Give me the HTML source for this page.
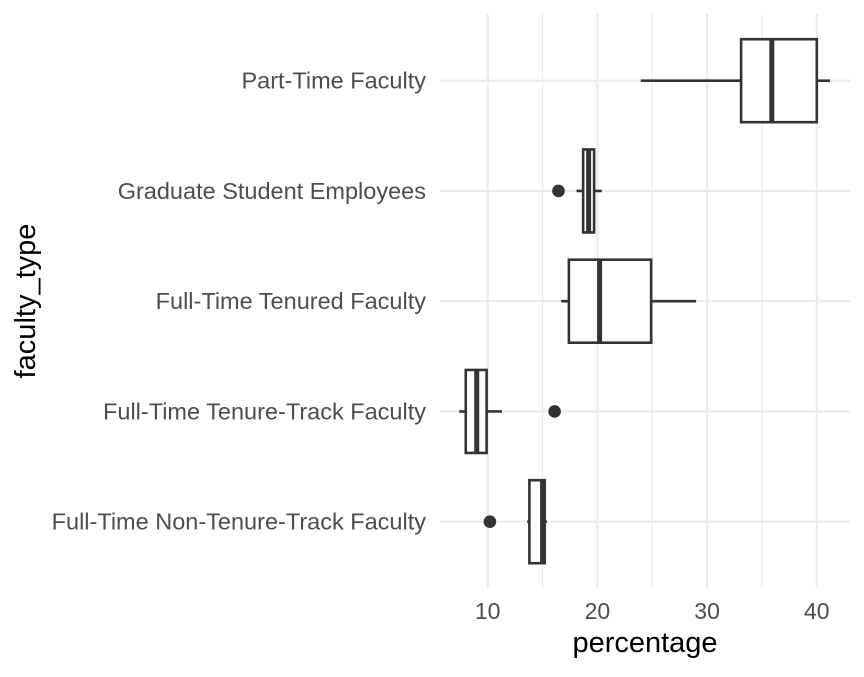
<!DOCTYPE html>
<html><head><meta charset="utf-8"><style>
html,body{margin:0;padding:0;background:#fff;}
svg text{font-family:"Liberation Sans",sans-serif;}
</style></head><body>
<svg id="chart" width="864" height="672" viewBox="0 0 864 672" xmlns="http://www.w3.org/2000/svg">
<g id="grid"></g>
<g id="boxes"></g>
<g id="labels"></g>
<text x="645" y="652" font-size="29" fill="#000" text-anchor="middle">percentage</text>
<text transform="translate(35,301) rotate(-90)" font-size="29" fill="#000" text-anchor="middle">faculty_type</text>
</svg>
<script>
const categories = ["Part-Time Faculty","Graduate Student Employees","Full-Time Tenured Faculty","Full-Time Tenure-Track Faculty","Full-Time Non-Tenure-Track Faculty"];
const whiskerLow = [23.95, 18.1, 16.7, 7.4, 13.6];
const q1 = [33.1, 18.7, 17.4, 8.0, 13.8];
const median = [35.9, 19.2, 20.2, 9.0, 15.0];
const q3 = [40.0, 19.7, 24.9, 9.9, 15.2];
const whiskerHigh = [41.2, 20.4, 29.0, 11.3, 15.4];
const outliers = [[], [16.45], [], [16.1], [10.2]];
const xTicks = [10, 20, 30, 40];
const xMinor = [15, 25, 35];

const NS = "http://www.w3.org/2000/svg";
function xs(v){ return 487.7 + (v - 10) * 10.97; }
function ys(i){ return 80.7 + i * 110.25; }
function mk(tag, attrs, parent){
  const e = document.createElementNS(NS, tag);
  for (const k in attrs) e.setAttribute(k, attrs[k]);
  parent.appendChild(e);
  return e;
}
const gridG = document.getElementById('grid');
const boxesG = document.getElementById('boxes');
const labelsG = document.getElementById('labels');
const panelTop = 14, panelBottom = 588, panelLeft = 440, panelRight = 850;

xMinor.forEach(v => {
  const l = mk('line', {x1:xs(v), x2:xs(v), y1:panelTop, y2:panelBottom, stroke:'#ebebeb', 'stroke-width':1.2}, gridG);
  
  
});
xTicks.forEach(v => {
  const l = mk('line', {x1:xs(v), x2:xs(v), y1:panelTop, y2:panelBottom, stroke:'#ebebeb', 'stroke-width':2.2}, gridG);
  
  
  const t = mk('text', {x:xs(v), y:619, 'font-size':23, fill:'#4d4d4d', 'text-anchor':'middle'}, labelsG);
  t.textContent = v;
  
  
});
categories.forEach((c, i) => {
  const y = ys(i);
  const gl = mk('line', {x1:panelLeft, x2:panelRight, y1:y, y2:y, stroke:'#ebebeb', 'stroke-width':2.2}, gridG);
  
  
  const t = mk('text', {x:426, y:y+8, 'font-size':23.5, fill:'#4d4d4d', 'text-anchor':'end'}, labelsG);
  t.textContent = c;
  
  

  const g = mk('g', {}, boxesG);
  
  
  const h = 41.5;
  mk('line', {x1:xs(whiskerLow[i]), x2:xs(q1[i]), y1:y, y2:y, stroke:'#333', 'stroke-width':2.6}, g);
  mk('line', {x1:xs(q3[i]), x2:xs(whiskerHigh[i]), y1:y, y2:y, stroke:'#333', 'stroke-width':2.6}, g);
  mk('rect', {x:xs(q1[i]), y:y-h, width:xs(q3[i])-xs(q1[i]), height:2*h, fill:'#fff', stroke:'#333', 'stroke-width':2.6}, g);
  mk('line', {x1:xs(median[i]), x2:xs(median[i]), y1:y-h, y2:y+h, stroke:'#333', 'stroke-width':5}, g);
  outliers[i].forEach(o => {
    const p = mk('circle', {cx:xs(o), cy:y, r:6.3, fill:'#333'}, g);
    
    
  });
});
</script>
</body></html>
